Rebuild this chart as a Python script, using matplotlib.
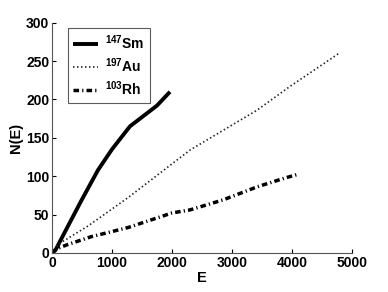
import matplotlib
matplotlib.use("Agg")
import matplotlib.pyplot as plt

sm_E = [0, 60, 267, 488, 767, 1000, 1300, 1500, 1750, 1967]
sm_N = [0, 4, 35, 68, 108, 135, 165, 177, 192, 210]
au_E = [0, 100, 600, 1267, 2300, 3417, 3967, 4800]
au_N = [0, 11, 35, 72, 134, 186, 217, 261]
rh_E = [0, 100, 267, 650, 1267, 2000, 2300, 2850, 3417, 3900, 4083]
rh_N = [0, 6, 11, 21, 33, 52, 56, 69, 86, 98, 102]

xticks = [0, 1000, 2000, 3000, 4000, 5000]
yticks = [0, 50, 100, 150, 200, 250, 300]

plt.rcParams['font.family'] = ['Liberation Sans', 'DejaVu Sans']
plt.rcParams['font.weight'] = 'bold'
plt.rcParams['mathtext.fontset'] = 'custom'
plt.rcParams['mathtext.rm'] = 'Liberation Sans:bold'
plt.rcParams['mathtext.bf'] = 'Liberation Sans:bold'
plt.rcParams['mathtext.it'] = 'Liberation Sans:bold'

fig = plt.figure(figsize=(3.88, 2.92), dpi=100)
ax = fig.add_axes([0.134, 0.134, 0.773, 0.788])

ax.plot(sm_E, sm_N, color='black', lw=2.8, solid_capstyle='butt', solid_joinstyle='round', label=r'$\mathbf{^{147}}$Sm')
ax.plot(au_E, au_N, color='#222222', lw=1.2, linestyle=(0, (0.9, 1.5)), label=r'$\mathbf{^{197}}$Au')
ax.plot(rh_E, rh_N, color='black', lw=2.5, linestyle=(0, (1.6, 0.9, 0.35, 0.9)), label=r'$\mathbf{^{103}}$Rh')

ax.set_xlim(0, 5000)
ax.set_ylim(0, 300)
ax.set_xticks(xticks)
ax.set_yticks(yticks)
ax.set_xticklabels([str(v) for v in xticks], fontsize=10, fontweight='bold')
ax.set_yticklabels([str(v) for v in yticks], fontsize=10, fontweight='bold')
ax.tick_params(direction='in', length=3, width=0.8, pad=2, colors='black')
for s in ['top', 'right']:
    ax.spines[s].set_visible(False)
for s in ['left', 'bottom']:
    ax.spines[s].set_color('#555555')
    ax.spines[s].set_linewidth(0.8)

ax.set_xlabel('E', fontsize=10.5, fontweight='bold', labelpad=1)
ax.set_ylabel('N(E)', fontsize=10.5, fontweight='bold', labelpad=2)

leg = ax.legend(loc='upper left', bbox_to_anchor=(0.053, 0.978), fontsize=10,
                frameon=True, fancybox=False, edgecolor='#333333',
                handlelength=1.75, handletextpad=0.55, labelspacing=0.3,
                borderpad=0.4, borderaxespad=0)
leg.get_frame().set_linewidth(0.8)
for t in leg.get_texts():
    t.set_fontweight('bold')

fig.savefig('out.png', dpi=100)
